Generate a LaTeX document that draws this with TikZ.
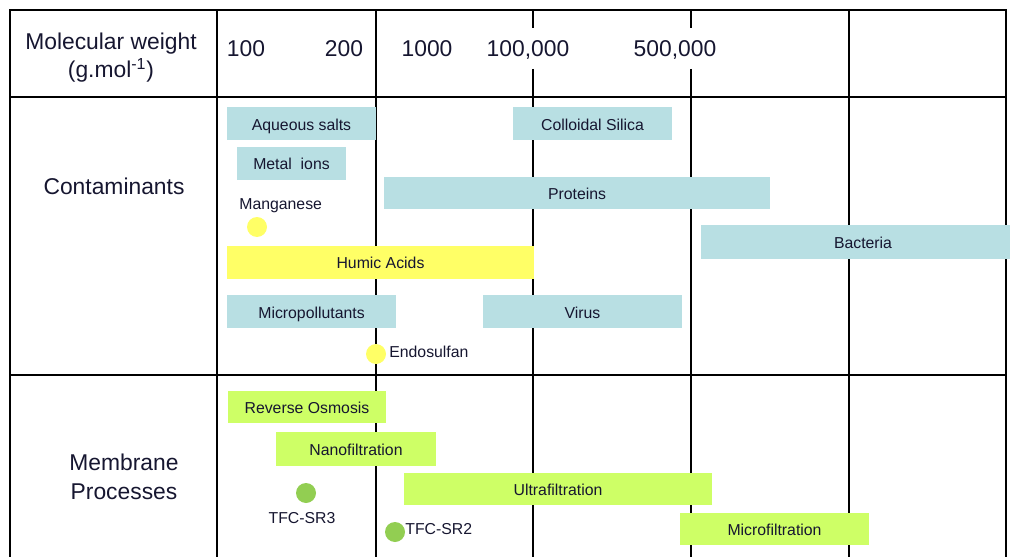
\documentclass[tikz,border=0pt]{standalone}
\usepackage{fontspec}
\setmainfont{Liberation Sans}
\usepackage{tikz}
\definecolor{cellblue}{RGB}{184,223,227}
\definecolor{humicyellow}{RGB}{255,255,102}
\definecolor{memgreen}{RGB}{206,255,102}
\definecolor{dotgreen}{RGB}{146,206,82}
\definecolor{inkblue}{RGB}{22,22,48}
\tikzset{
  gridline/.style={line width=1.6pt, black},
  contbox/.style={fill=cellblue},
  humicbox/.style={fill=humicyellow},
  membox/.style={fill=memgreen},
  lbl/.style={font=\fontsize{9}{10}\selectfont, text=inkblue, inner sep=0pt, anchor=mid, yshift=-0.8pt},
  bigtxt/.style={font=\fontsize{13}{15}\selectfont, text=inkblue, inner sep=0pt, align=center, anchor=mid, yshift=-1.7pt},
}

\begin{document}
\begin{tikzpicture}[x=0.02cm, y=-0.02cm]
    \useasboundingbox (0,0) rectangle (1010,557);
    % table
    \draw[gridline] (10,557) -- (10,10) -- (1006,10) -- (1006,557);
    \draw[gridline] (10,97) -- (1006,97);
    \draw[gridline] (10,375) -- (1006,375);
    \foreach \x in {217,376,849}
        \draw[gridline] (\x,10) -- (\x,557);
    \foreach \x in {533,691} {
        \draw[gridline] (\x,10) -- (\x,28);
        \draw[gridline] (\x,69) -- (\x,557);
    }
    % header
    \node[bigtxt] (mwt) at (111,42) {Molecular weight};
    \node[bigtxt] (unit) at (111,70) {(g.mol\textsuperscript{-1})};
    \node[bigtxt] (m100) at (246,49) {100};
    \node[bigtxt] (m200) at (344,49) {200};
    \node[bigtxt] (m1k) at (427,49) {1000};
    \node[bigtxt] (m100k) at (528,49) {100,000};
    \node[bigtxt] (m500k) at (675,49) {500,000};
    % contaminants
    \node[bigtxt] (cont) at (114,187) {Contaminants};
    \fill[contbox] (227,107) rectangle (376,140);
    \node[lbl] (aqsalts) at (301.5,124) {Aqueous salts};
    \fill[contbox] (513,107) rectangle (672,140);
    \node[lbl] (silica) at (592.5,124) {Colloidal Silica};
    \fill[contbox] (237,147) rectangle (346,180);
    \node[lbl] (metal) at (291.5,163.5) {Metal\ \ ions};
    \fill[contbox] (384,177) rectangle (770,209);
    \node[lbl] (prot) at (577,193) {Proteins};
    \node[lbl, anchor=mid west] (mangan) at (239,203) {Manganese};
    \fill[humicyellow] (257,227) circle (10);
    \fill[humicbox] (227,246) rectangle (534,279);
    \node[lbl] (humic) at (380.5,262.5) {Humic Acids};
    \fill[contbox] (701,225) rectangle (1010,259);
    \node[lbl] (bact) at (863,242) {Bacteria};
    \fill[contbox] (227,295) rectangle (396,328);
    \node[lbl] (micro) at (311.5,312) {Micropollutants};
    \fill[contbox] (483,295) rectangle (682,328);
    \node[lbl] (virus) at (582.5,312) {Virus};
    \fill[humicyellow] (376,354) circle (10);
    \node[lbl, anchor=mid west] (endo) at (389,351) {Endosulfan};
    % membrane processes
    \node[bigtxt] (memb) at (124,463) {Membrane};
    \node[bigtxt] (proc) at (124,492) {Processes};
    \fill[membox] (228,391) rectangle (386,423);
    \node[lbl] (ro) at (307,407.5) {Reverse Osmosis};
    \fill[membox] (276,432) rectangle (436,466);
    \node[lbl] (nf) at (356,449) {Nanofiltration};
    \fill[membox] (404,473) rectangle (712,505);
    \node[lbl] (uf) at (558,489) {Ultrafiltration};
    \fill[membox] (680,513) rectangle (869,545);
    \node[lbl] (mf) at (774.5,529) {Microfiltration};
    \fill[dotgreen] (306,493) circle (10);
    \node[lbl] (sr3) at (302,517) {TFC-SR3};
    \fill[dotgreen] (395,532) circle (10);
    \node[lbl, anchor=mid west] (sr2) at (405,528) {TFC-SR2};
\end{tikzpicture}
\end{document}
